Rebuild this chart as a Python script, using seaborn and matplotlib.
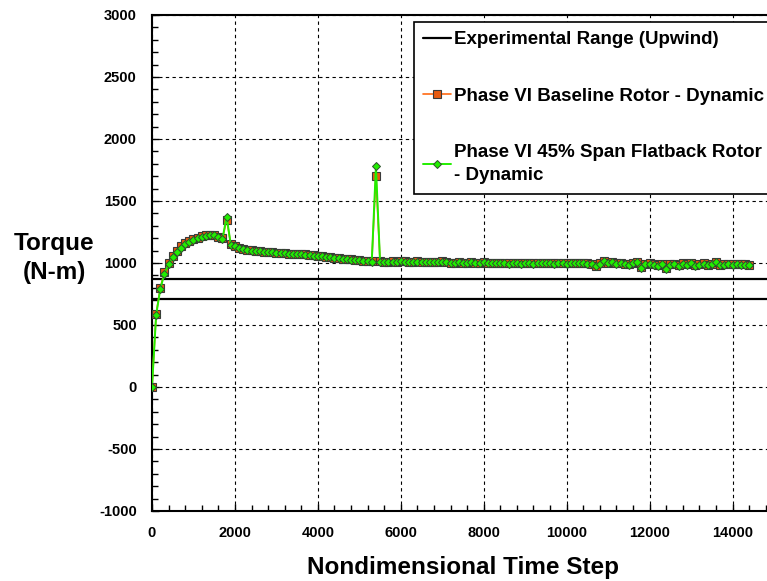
import matplotlib
matplotlib.use("Agg")
import matplotlib.pyplot as plt
import seaborn as sns
import pandas as pd
import numpy as np
from matplotlib.ticker import MultipleLocator

# ---- data ----
time_step = list(range(0, 14500, 100))

flatback = [
    0, 580, 790, 915, 990, 1045, 1090, 1125, 1150, 1170,
    1185, 1198, 1210, 1220, 1222, 1222, 1210, 1195, 1375, 1148,
    1135, 1120, 1110, 1102, 1100, 1098, 1095, 1090, 1088, 1085,
    1082, 1080, 1078, 1075, 1072, 1070, 1070, 1068, 1062, 1060,
    1058, 1055, 1048, 1045, 1042, 1040, 1035, 1032, 1028, 1025,
    1022, 1018, 1015, 1012, 1780, 1012, 1010, 1008, 1012, 1010,
    1015, 1012, 1008, 1010, 1012, 1008, 1010, 1005, 1008, 1010,
    1012, 1005, 1000, 1002, 1005, 1000, 1003, 1005, 1000, 1002,
    1008, 1000, 998, 1000, 996, 1000, 995, 998, 1000, 995,
    998, 1000, 995, 998, 1000, 996, 998, 995, 1000, 998,
    995, 1000, 998, 996, 1000, 995, 990, 975, 995, 1020,
    1000, 1010, 995, 1000, 990, 985, 1000, 1005, 960, 990,
    995, 985, 975, 990, 955, 985, 990, 975, 995, 985,
    1000, 975, 985, 995, 980, 990, 1010, 980, 985, 990,
    985, 990, 985, 985, 980,
]

baseline = [
    0, 590, 800, 925, 1000, 1055, 1100, 1135, 1158, 1176,
    1190, 1203, 1214, 1224, 1226, 1225, 1213, 1198, 1350, 1152,
    1138, 1123, 1112, 1104, 1101, 1099, 1096, 1092, 1089, 1086,
    1083, 1081, 1079, 1076, 1073, 1071, 1071, 1069, 1064, 1061,
    1059, 1056, 1050, 1046, 1043, 1041, 1036, 1033, 1029, 1026,
    1023, 1019, 1016, 1013, 1705, 1013, 1011, 1009, 1013, 1011,
    1016, 1013, 1009, 1011, 1013, 1009, 1011, 1006, 1009, 1011,
    1013, 1006, 1001, 1003, 1006, 1001, 1004, 1006, 1001, 1003,
    1009, 1001, 999, 1001, 997, 1001, 996, 999, 1001, 996,
    999, 1001, 996, 999, 1001, 997, 999, 996, 1001, 999,
    996, 1001, 999, 997, 1001, 996, 992, 978, 996, 1018,
    1002, 1012, 997, 1002, 993, 988, 1003, 1008, 965, 993,
    998, 990, 980, 993, 960, 988, 995, 980, 998, 988,
    1003, 980, 988, 998, 984, 993, 1012, 984, 988, 993,
    988, 993, 988, 988, 983,
]

exp_low = 710
exp_high = 875

x_ticks = [0, 2000, 4000, 6000, 8000, 10000, 12000, 14000]
y_ticks = [-1000, -500, 0, 500, 1000, 1500, 2000, 2500, 3000]

labels = ["Experimental Range (Upwind)",
          "Phase VI Baseline Rotor - Dynamic",
          "Phase VI 45% Span Flatback Rotor\n- Dynamic"]

df = pd.DataFrame({"step": time_step, "baseline": baseline, "flatback": flatback})

# ---- plotting ----
sns.set_theme(style="white")
plt.rcParams["font.family"] = ["Liberation Sans", "DejaVu Sans"]
plt.rcParams["axes.unicode_minus"] = False
plt.rcParams["text.color"] = "black"
plt.rcParams["axes.labelcolor"] = "black"

fig = plt.figure(figsize=(7.67, 5.81), dpi=100)
L, R, T, B = 152, 774, 15, 511
ax = fig.add_axes([L / 767, 1 - B / 581, (R - L) / 767, (B - T) / 581])

ax.axhline(exp_high, color="black", lw=1.6, zorder=2, label=labels[0])
ax.axhline(exp_low, color="black", lw=1.6, zorder=2)

sns.lineplot(data=df, x="step", y="baseline", ax=ax, color="#ff6a13", lw=1.2,
             marker="s", markersize=5.5, markerfacecolor="#e85a10",
             markeredgecolor="#3a3a3a", markeredgewidth=0.8,
             label=labels[1], zorder=3)
sns.lineplot(data=df, x="step", y="flatback", ax=ax, color="#22ee00", lw=1.4,
             marker="D", markersize=4.5, markerfacecolor="#22ee00",
             markeredgecolor="#2f4f2f", markeredgewidth=0.7,
             label=labels[2], zorder=4)

ax.set_xlim(0, 15000)
ax.set_ylim(-1000, 3000)
ax.set_xticks(x_ticks)
ax.set_yticks(y_ticks)
ax.xaxis.set_minor_locator(MultipleLocator(400))
ax.yaxis.set_minor_locator(MultipleLocator(100))
ax.tick_params(axis="both", which="both", direction="in", labelsize=10.5,
               colors="black", bottom=True, left=True, top=False, right=False)
ax.tick_params(which="major", length=5, width=1, pad=11)
ax.tick_params(which="minor", length=4, width=1)
for lab in ax.get_xticklabels() + ax.get_yticklabels():
    lab.set_fontweight("bold")

ax.grid(True, which="major", color="black", linestyle=(0, (3, 3)), lw=0.8)
ax.set_axisbelow(True)
for s in ax.spines.values():
    s.set_color("black")
    s.set_linewidth(1.5)

ax.set_xlabel("Nondimensional Time Step", fontsize=17.5, fontweight="bold",
              labelpad=11, color="black")
ax.set_ylabel("Torque\n(N-m)", fontsize=17.5, fontweight="bold", rotation=0,
              ha="center", va="center", linespacing=1.3, color="black")
ax.yaxis.set_label_coords(-0.157, 0.51)

leg = ax.legend(loc="upper left", bbox_to_anchor=(414 / 767, 1 - 22 / 581),
                bbox_transform=fig.transFigure, frameon=True, fancybox=False,
                edgecolor="black", framealpha=1, prop={"weight": "bold", "size": 13.5},
                labelspacing=2.1, handlelength=1.45, handletextpad=0.2,
                borderpad=0.5, borderaxespad=0)
leg.get_frame().set_linewidth(1.2)
for t in leg.get_texts():
    t.set_linespacing(1.45)
    t.set_color("black")

fig.savefig("out.png", dpi=100)
